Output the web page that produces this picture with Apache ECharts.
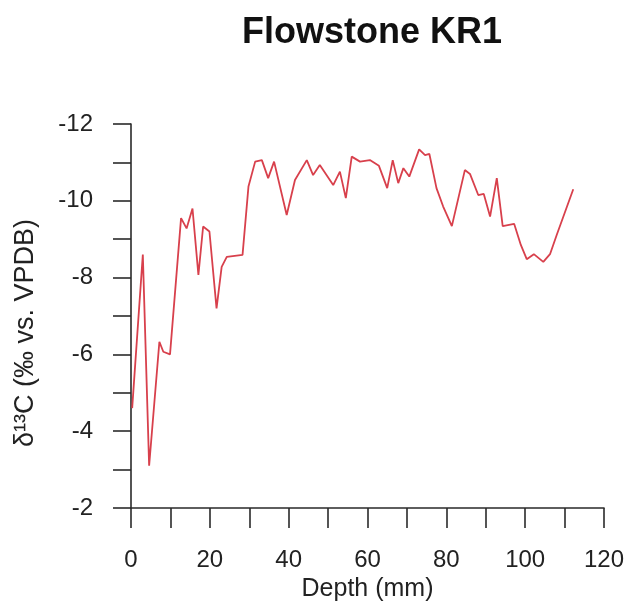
<!DOCTYPE html>
<html>
<head>
<meta charset="utf-8">
<title>Flowstone KR1</title>
<script src="https://cdn.jsdelivr.net/npm/echarts@6/dist/echarts.min.js"></script>
<style>
  html, body { margin: 0; padding: 0; background: #ffffff; }
  #chart { width: 639px; height: 609px; }
</style>
</head>
<body>
<div id="chart"></div>
<script>
// Carbon isotope profile along the flowstone growth axis
const depthMm = [0.3, 3.0, 4.6, 7.2, 8.2, 9.9, 12.7, 14.1, 15.6, 17.1, 18.3, 19.9, 21.7, 23.0, 24.3,
  28.3, 29.8, 31.5, 33.2, 34.8, 36.3, 39.5, 41.6, 44.6, 46.2, 47.9, 51.3, 53.0, 54.5, 56.0,
  58.1, 60.6, 62.9, 65.0, 66.4, 67.8, 69.1, 70.6, 73.1, 74.6, 75.7, 77.5, 79.2, 81.4, 84.7,
  86.0, 88.1, 89.5, 91.1, 92.8, 94.3, 97.2, 98.9, 100.4, 102.2, 104.6, 106.3, 108.0, 112.2];
const d13C = [-4.6, -8.6, -3.1, -6.33, -6.07, -6.0, -9.55, -9.28, -9.8, -8.07, -9.33, -9.2, -7.2, -8.28, -8.54,
  -8.59, -10.37, -11.02, -11.06, -10.59, -11.02, -9.63, -10.54, -11.06, -10.67, -10.93, -10.41, -10.76, -10.07, -11.15,
  -11.02, -11.06, -10.91, -10.33, -11.06, -10.46, -10.85, -10.63, -11.34, -11.19, -11.22, -10.33, -9.85, -9.34, -10.8,
  -10.7, -10.15, -10.18, -9.59, -10.59, -9.34, -9.4, -8.85, -8.48, -8.61, -8.41, -8.61, -9.11, -10.3];

// Labelled tick values
const xTickLabels = [0, 20, 40, 60, 80, 100, 120];
const yTickLabels = [-12, -10, -8, -6, -4, -2];

const titleText = 'Flowstone KR1';
const xName = 'Depth (mm)';
const yName = 'δ¹³C (‰ vs. VPDB)';

const font = '"Liberation Sans", Arial, Helvetica, sans-serif';
const axisColor = '#2a2a2a';

const chart = echarts.init(document.getElementById('chart'), null, { renderer: 'canvas' });

chart.setOption({
  backgroundColor: '#ffffff',
  animation: false,
  title: {
    text: titleText,
    left: 367,
    top: 10,
    textAlign: 'center',
    textStyle: { fontFamily: font, fontSize: 36, fontWeight: 'bold', color: '#111111' }
  },
  grid: { left: 131, right: 35, top: 124, bottom: 101, outerBoundsMode: 'none' },
  xAxis: {
    type: 'value',
    min: 0,
    max: 120,
    interval: 10,
    name: xName,
    nameLocation: 'middle',
    nameGap: 66,
    nameTextStyle: { fontFamily: font, fontSize: 25, color: '#222222' },
    axisLine: { show: true, onZero: false, lineStyle: { color: axisColor, width: 1.6 } },
    axisTick: { show: true, length: 20, lineStyle: { color: axisColor, width: 1.6 } },
    axisLabel: {
      margin: 40,
      fontFamily: font,
      fontSize: 24,
      color: '#222222',
      showMinLabel: true,
      showMaxLabel: true,
      formatter: v => (xTickLabels.includes(v) ? String(v) : '')
    },
    splitLine: { show: false }
  },
  yAxis: {
    type: 'value',
    inverse: true,
    min: -12,
    max: -2,
    interval: 1,
    name: yName,
    nameLocation: 'middle',
    nameGap: 92,
    nameTextStyle: { fontFamily: font, fontSize: 27, color: '#222222', padding: [0, 34, 0, 0] },
    axisLine: { show: true, onZero: false, lineStyle: { color: axisColor, width: 1.6 } },
    axisTick: { show: true, length: 18, lineStyle: { color: axisColor, width: 1.6 } },
    axisLabel: {
      margin: 38,
      fontFamily: font,
      fontSize: 24,
      color: '#222222',
      showMinLabel: true,
      showMaxLabel: true,
      formatter: v => (yTickLabels.includes(v) ? String(v) : '')
    },
    splitLine: { show: false }
  },
  series: [{
    type: 'line',
    data: depthMm.map((d, i) => [d, d13C[i]]),
    showSymbol: false,
    symbol: 'none',
    smooth: false,
    lineStyle: { color: '#d8404c', width: 1.8 }
  }]
});
</script>
</body>
</html>
